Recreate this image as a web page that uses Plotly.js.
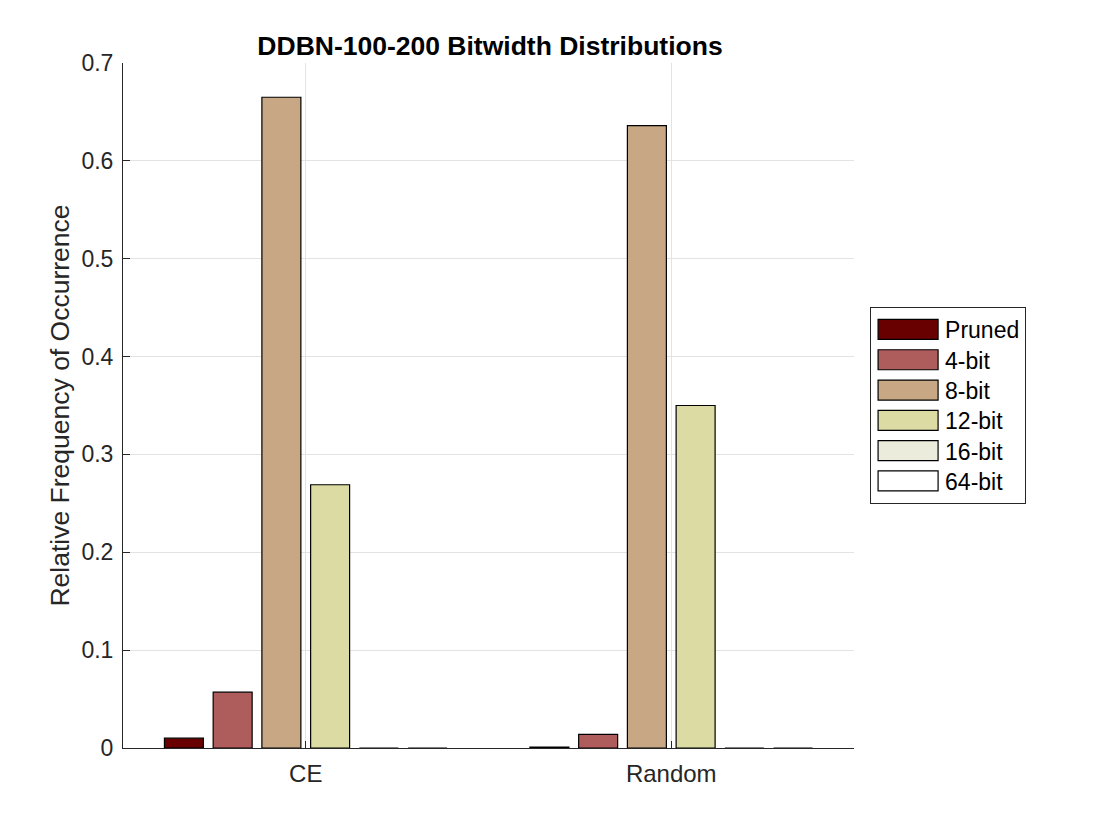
<!DOCTYPE html>
<html>
<head>
<meta charset="utf-8">
<script src="https://cdn.plot.ly/plotly-3.0.1.min.js"></script>
<style>html,body{margin:0;padding:0;background:#fff;}#chart{width:1120px;height:840px;}</style>
</head>
<body>
<div id="chart"></div>
<script>
const categories = ["CE", "Random"];
const seriesNames = ["Pruned", "4-bit", "8-bit", "12-bit", "16-bit", "64-bit"];
const pruned = [0.010, 0.001];
const bit4 = [0.057, 0.014];
const bit8 = [0.665, 0.636];
const bit12 = [0.269, 0.350];
const bit16 = [0, 0];
const bit64 = [0, 0];
const colors = ["#680000", "#ae5c5c", "#c8a884", "#dbdba3", "#ececdc", "#ffffff"];
const yTicks = [0, 0.1, 0.2, 0.3, 0.4, 0.5, 0.6, 0.7];
const yTickText = ["0", "0.1", "0.2", "0.3", "0.4", "0.5", "0.6", "0.7"];

const values = [pruned, bit4, bit8, bit12, bit16, bit64];
const xPos = categories.map((c, i) => i + 1);
const traces = values.map((v, i) => ({
  type: "bar",
  name: seriesNames[i],
  x: xPos,
  y: v,
  marker: {color: colors[i], line: {color: "#000000", width: 1.2}},
  hoverinfo: "y"
}));

const font = "Liberation Sans, Arial, Helvetica, sans-serif";
const layout = {
  width: 1120, height: 840,
  paper_bgcolor: "#ffffff", plot_bgcolor: "#ffffff",
  margin: {l: 123, r: 266, t: 63, b: 92},
  barmode: "group", bargap: 0.2, bargroupgap: 0.2,
  font: {family: font, color: "#262626"},
  title: {text: "<b>DDBN-100-200 Bitwidth Distributions</b>", font: {size: 26.5, color: "#000000", family: font}, x: 0.4375, xanchor: "center", y: 0.946, yanchor: "middle"},
  xaxis: {
    range: [0.5, 2.5], tickvals: xPos, ticktext: categories,
    showgrid: true, gridcolor: "#e3e3e3", gridwidth: 1,
    showline: true, linecolor: "#262626", linewidth: 1,
    ticks: "inside", ticklen: 7, tickcolor: "#262626",
    ticklabelstandoff: 4,
    tickfont: {size: 24, color: "#262626", family: font}, zeroline: false
  },
  yaxis: {
    range: [0, 0.7], tickvals: yTicks, ticktext: yTickText,
    showgrid: true, gridcolor: "#e3e3e3", gridwidth: 1,
    showline: true, linecolor: "#262626", linewidth: 1,
    ticks: "inside", ticklen: 7, tickcolor: "#262626",
    ticklabelstandoff: 4,
    tickfont: {size: 23, color: "#262626", family: font}, zeroline: false,
    title: {text: "Relative Frequency of Occurrence", font: {size: 26.5, color: "#262626", family: font}, standoff: 4}
  },
  legend: {
    x: 1.022, xanchor: "left", y: 0.5, yanchor: "middle",
    bordercolor: "#262626", borderwidth: 1, bgcolor: "#ffffff",
    font: {size: 23, color: "#000000", family: font},
    itemwidth: 64, tracegroupgap: 0, traceorder: "normal"
  },
  showlegend: true
};
Plotly.newPlot("chart", traces, layout, {displayModeBar: false, staticPlot: true}).then(function (gd) {
  const leg = gd.querySelector(".legend");
  if (!leg) return;
  // widen legend swatches to match the reference's rectangular patches
  leg.querySelectorAll(".legendpoints path").forEach(function (p) {
    p.setAttribute("d", "M-30,-10H30V10H-30Z");
  });
  // tighten legend row spacing to the reference's
  const parse = function (el) {
    const m = /translate\(\s*([-\d.e]+)[ ,]+([-\d.e]+)/.exec(el.getAttribute("transform") || "");
    return m ? [parseFloat(m[1]), parseFloat(m[2])] : null;
  };
  const items = Array.from(leg.querySelectorAll(".traces"));
  const pos = items.map(parse);
  if (pos.length < 2 || pos.some(function (p) { return !p; })) return;
  const step = (pos[pos.length - 1][1] - pos[0][1]) / (pos.length - 1);
  const newStep = 30.3;
  items.forEach(function (el, i) {
    el.setAttribute("transform", "translate(" + pos[i][0] + "," + (pos[0][1] + i * newStep) + ")");
  });
  const shrink = (step - newStep) * (pos.length - 1);
  const bg = leg.querySelector("rect.bg");
  if (bg) bg.setAttribute("height", parseFloat(bg.getAttribute("height")) - shrink);
  const lp = parse(leg);
  if (lp) leg.setAttribute("transform", "translate(" + lp[0] + "," + (lp[1] + shrink / 2) + ")");
});
</script>
</body>
</html>
